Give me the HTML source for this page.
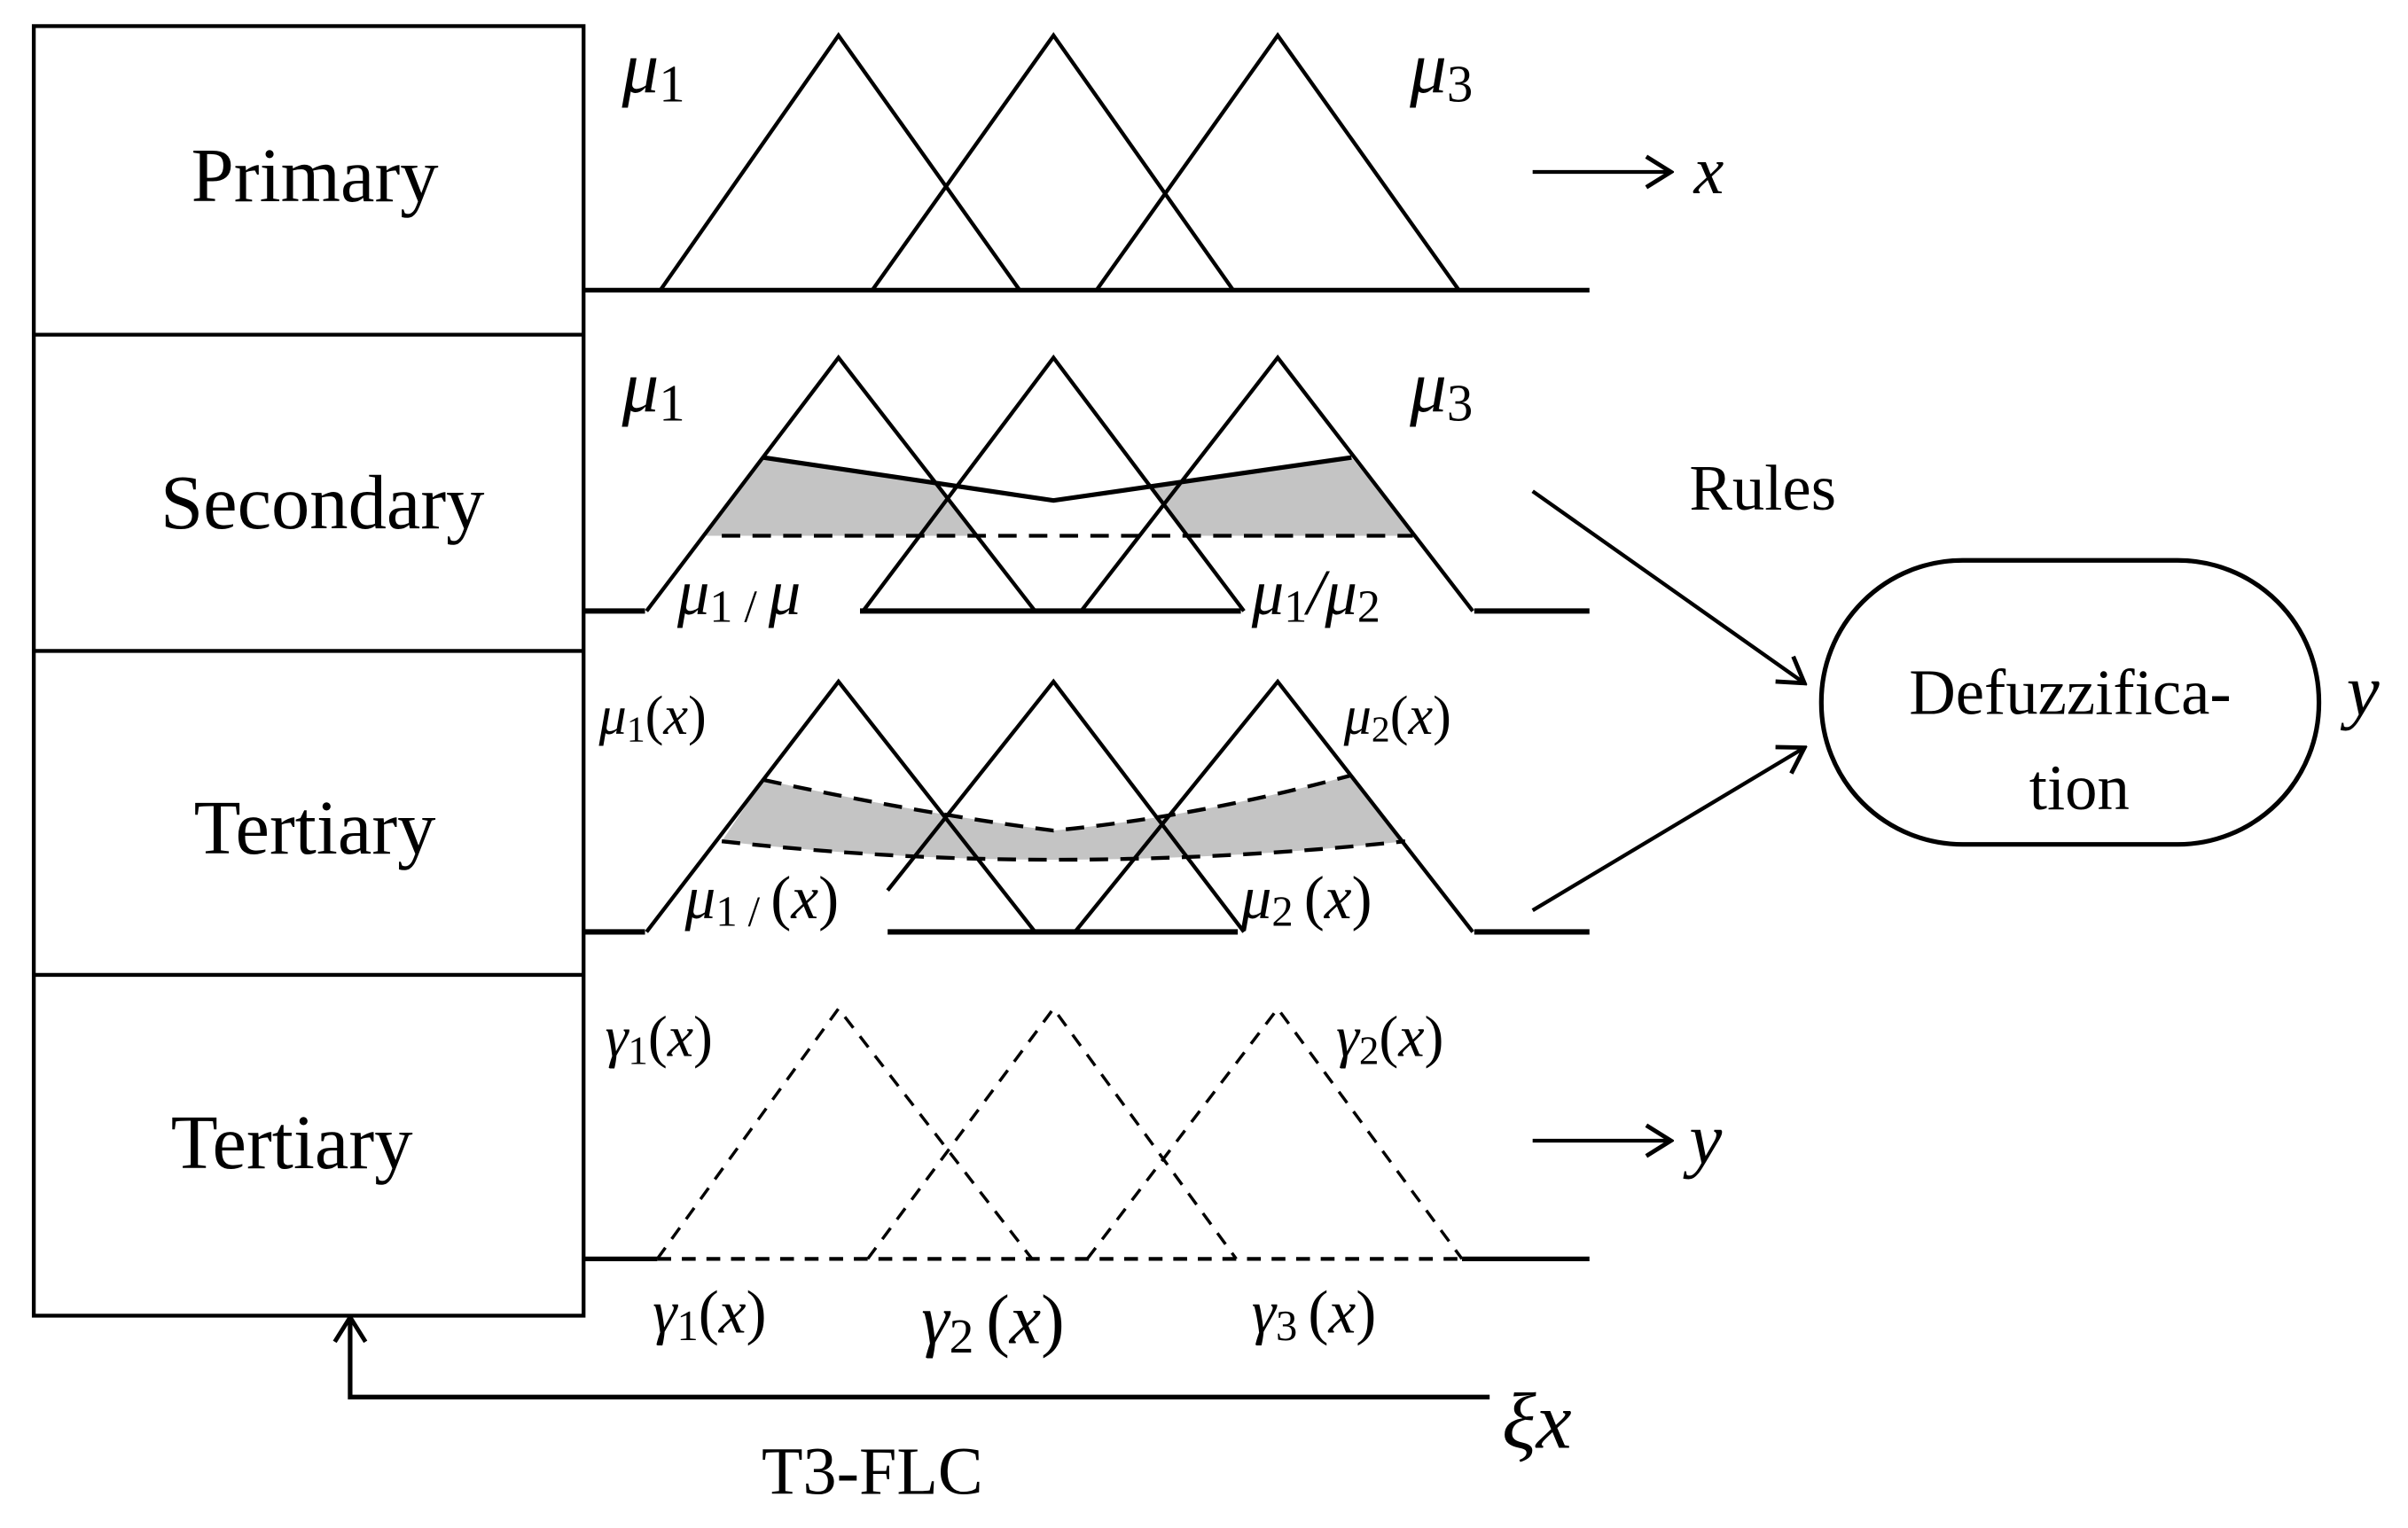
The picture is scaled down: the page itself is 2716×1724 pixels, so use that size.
<!DOCTYPE html>
<html><head><meta charset="utf-8"><style>
html,body{margin:0;padding:0;background:#fff}
svg{display:block}
text{font-family:"Liberation Serif","DejaVu Serif",serif;fill:#000}
.m{font-style:italic}
</style></head><body>
<svg width="2716" height="1724" viewBox="0 0 1568 995.3" xmlns="http://www.w3.org/2000/svg">
<defs>
<marker id="ah2" markerWidth="24" markerHeight="24" refX="22" refY="12" orient="auto" markerUnits="userSpaceOnUse"><path d="M6,2 L22,12 L6,22" fill="none" stroke="#000" stroke-width="2.8"/></marker></defs>
<g stroke="#000" stroke-width="2.5" fill="none">
<rect x="22" y="17" width="358" height="840"/>
<line x1="22" y1="218" x2="380" y2="218"/><line x1="22" y1="424" x2="380" y2="424"/><line x1="22" y1="635" x2="380" y2="635"/>
<line x1="380" y1="189" x2="1035" y2="189" stroke-width="3"/>
<polyline points="430,189 546,23 664,189"/><polyline points="568,189 686,23 803,189"/><polyline points="714,189 832,23 950,189"/>
<line x1="998" y1="112" x2="1088" y2="112" marker-end="url(#ah2)"/>
<polygon points="497,298 609,315 636,349 458,349" fill="#c4c4c4" stroke="none"/>
<polygon points="749,317 880,298 921,349 773,349" fill="#c4c4c4" stroke="none"/>
<polyline points="421,398 546,233 674,398"/><polyline points="562,398 686,233 810,398"/><polyline points="704,398 832,233 959,398"/>
<polyline points="497,298 686,326 880,298" stroke-width="3"/>
<line x1="470" y1="349" x2="920" y2="349" stroke-dasharray="12,8"/>
<g stroke-width="3.5"><line x1="380" y1="398" x2="420" y2="398"/><line x1="560" y1="398" x2="808" y2="398"/><line x1="960" y1="398" x2="1035" y2="398"/></g>
<path d="M497,508 Q600,530 686,541 Q780,532 880,505 L915,548 Q800,560 686,560 Q580,560 470,548 Z" fill="#c4c4c4" stroke="none"/>
<path d="M497,508 Q600,530 686,541 Q780,532 880,505" stroke-dasharray="12,8"/>
<path d="M470,548 Q580,560 686,560 Q800,560 915,548" stroke-dasharray="12,8"/>
<polyline points="421,607 546,444 674,607"/><polyline points="578,580 686,444 810,607"/><polyline points="700,607 832,444 959,607"/>
<g stroke-width="3.5"><line x1="380" y1="607" x2="420" y2="607"/><line x1="578" y1="607" x2="806" y2="607"/><line x1="960" y1="607" x2="1035" y2="607"/></g>
<g stroke-dasharray="9,7" stroke-width="2"><polyline points="428,820 546,657 672,820"/><polyline points="565,820 686,657 805,820"/><polyline points="708,820 832,657 952,820"/>
<line x1="428" y1="820" x2="952" y2="820" stroke-width="2.5"/></g>
<line x1="380" y1="820" x2="428" y2="820" stroke-width="3"/><line x1="952" y1="820" x2="1035" y2="820" stroke-width="3"/>
<line x1="998" y1="743" x2="1088" y2="743" marker-end="url(#ah2)"/>
<polyline points="970,910 228,910 228,858" stroke-width="3" marker-end="url(#ah2)"/>
<line x1="998" y1="320" x2="1175" y2="445" marker-end="url(#ah2)"/>
<line x1="998" y1="593" x2="1175" y2="487" marker-end="url(#ah2)"/>
<rect x="1186" y="365" width="324" height="185" rx="92" ry="92" stroke-width="3"/>
</g>
<g font-size="50" text-anchor="middle">
<text x="205" y="131">Primary</text><text x="210" y="344">Secondary</text><text x="205" y="556">Tertiary</text><text x="190" y="761">Tertiary</text>
</g>
<g font-size="44">
<text x="405" y="60" class="m" font-size="48">μ<tspan font-style="normal" font-size="34" dy="6">1</tspan></text>
<text x="918" y="60" class="m" font-size="48">μ<tspan font-style="normal" font-size="34" dy="6">3</tspan></text>
<text x="1103" y="126" class="m">x</text>
<text x="405" y="268" class="m" font-size="48">μ<tspan font-style="normal" font-size="34" dy="6">1</tspan></text>
<text x="918" y="268" class="m" font-size="48">μ<tspan font-style="normal" font-size="34" dy="6">3</tspan></text>
<text x="441" y="400" class="m" font-size="42">μ<tspan font-style="normal" font-size="30" dy="5">1 / </tspan><tspan dy="-5">μ</tspan></text>
<text x="815" y="400" class="m" font-size="42">μ<tspan font-style="normal" font-size="30" dy="5">1</tspan><tspan dy="-5">/μ</tspan><tspan font-style="normal" font-size="30" dy="5">2</tspan></text>
<text x="390" y="478" font-size="36"><tspan class="m">μ</tspan><tspan font-size="24" dy="5">1</tspan><tspan dy="-5">(</tspan><tspan class="m">x</tspan>)</text>
<text x="875" y="478" font-size="36"><tspan class="m">μ</tspan><tspan font-size="24" dy="5">2</tspan><tspan dy="-5">(</tspan><tspan class="m">x</tspan>)</text>
<text x="446" y="598" font-size="40"><tspan class="m">μ</tspan><tspan font-size="28" dy="5">1 / </tspan><tspan dy="-5">(</tspan><tspan class="m">x</tspan>)</text>
<text x="808" y="598" font-size="40"><tspan class="m">μ</tspan><tspan font-size="28" dy="5">2 </tspan><tspan dy="-5">(</tspan><tspan class="m">x</tspan>)</text>
<text x="394" y="688" font-size="38"><tspan class="m">γ</tspan><tspan font-size="26" dy="5">1</tspan><tspan dy="-5">(</tspan><tspan class="m">x</tspan>)</text>
<text x="870" y="688" font-size="38"><tspan class="m">γ</tspan><tspan font-size="26" dy="5">2</tspan><tspan dy="-5">(</tspan><tspan class="m">x</tspan>)</text>
<text x="425" y="868" font-size="40"><tspan class="m">γ</tspan><tspan font-size="28" dy="5">1</tspan><tspan dy="-5">(</tspan><tspan class="m">x</tspan>)</text>
<text x="600" y="875" font-size="46"><tspan class="m">γ</tspan><tspan font-size="32" dy="6">2 </tspan><tspan dy="-6">(</tspan><tspan class="m">x</tspan>)</text>
<text x="815" y="868" font-size="40"><tspan class="m">γ</tspan><tspan font-size="28" dy="5">3 </tspan><tspan dy="-5">(</tspan><tspan class="m">x</tspan>)</text>
<text x="1100" y="758" class="m" font-size="48">y</text>
<text x="978" y="943" class="m" font-size="52">ξx</text>
<text x="568" y="973" text-anchor="middle" font-size="44">T3-FLC</text>
<text x="1100" y="332" font-size="42">Rules</text>
<text x="1348" y="465" text-anchor="middle" font-size="42">Defuzzifica-</text>
<text x="1354" y="527" text-anchor="middle" font-size="42">tion</text>
<text x="1528" y="466" class="m" font-size="48">y</text>
</g>
</svg>
</body></html>
